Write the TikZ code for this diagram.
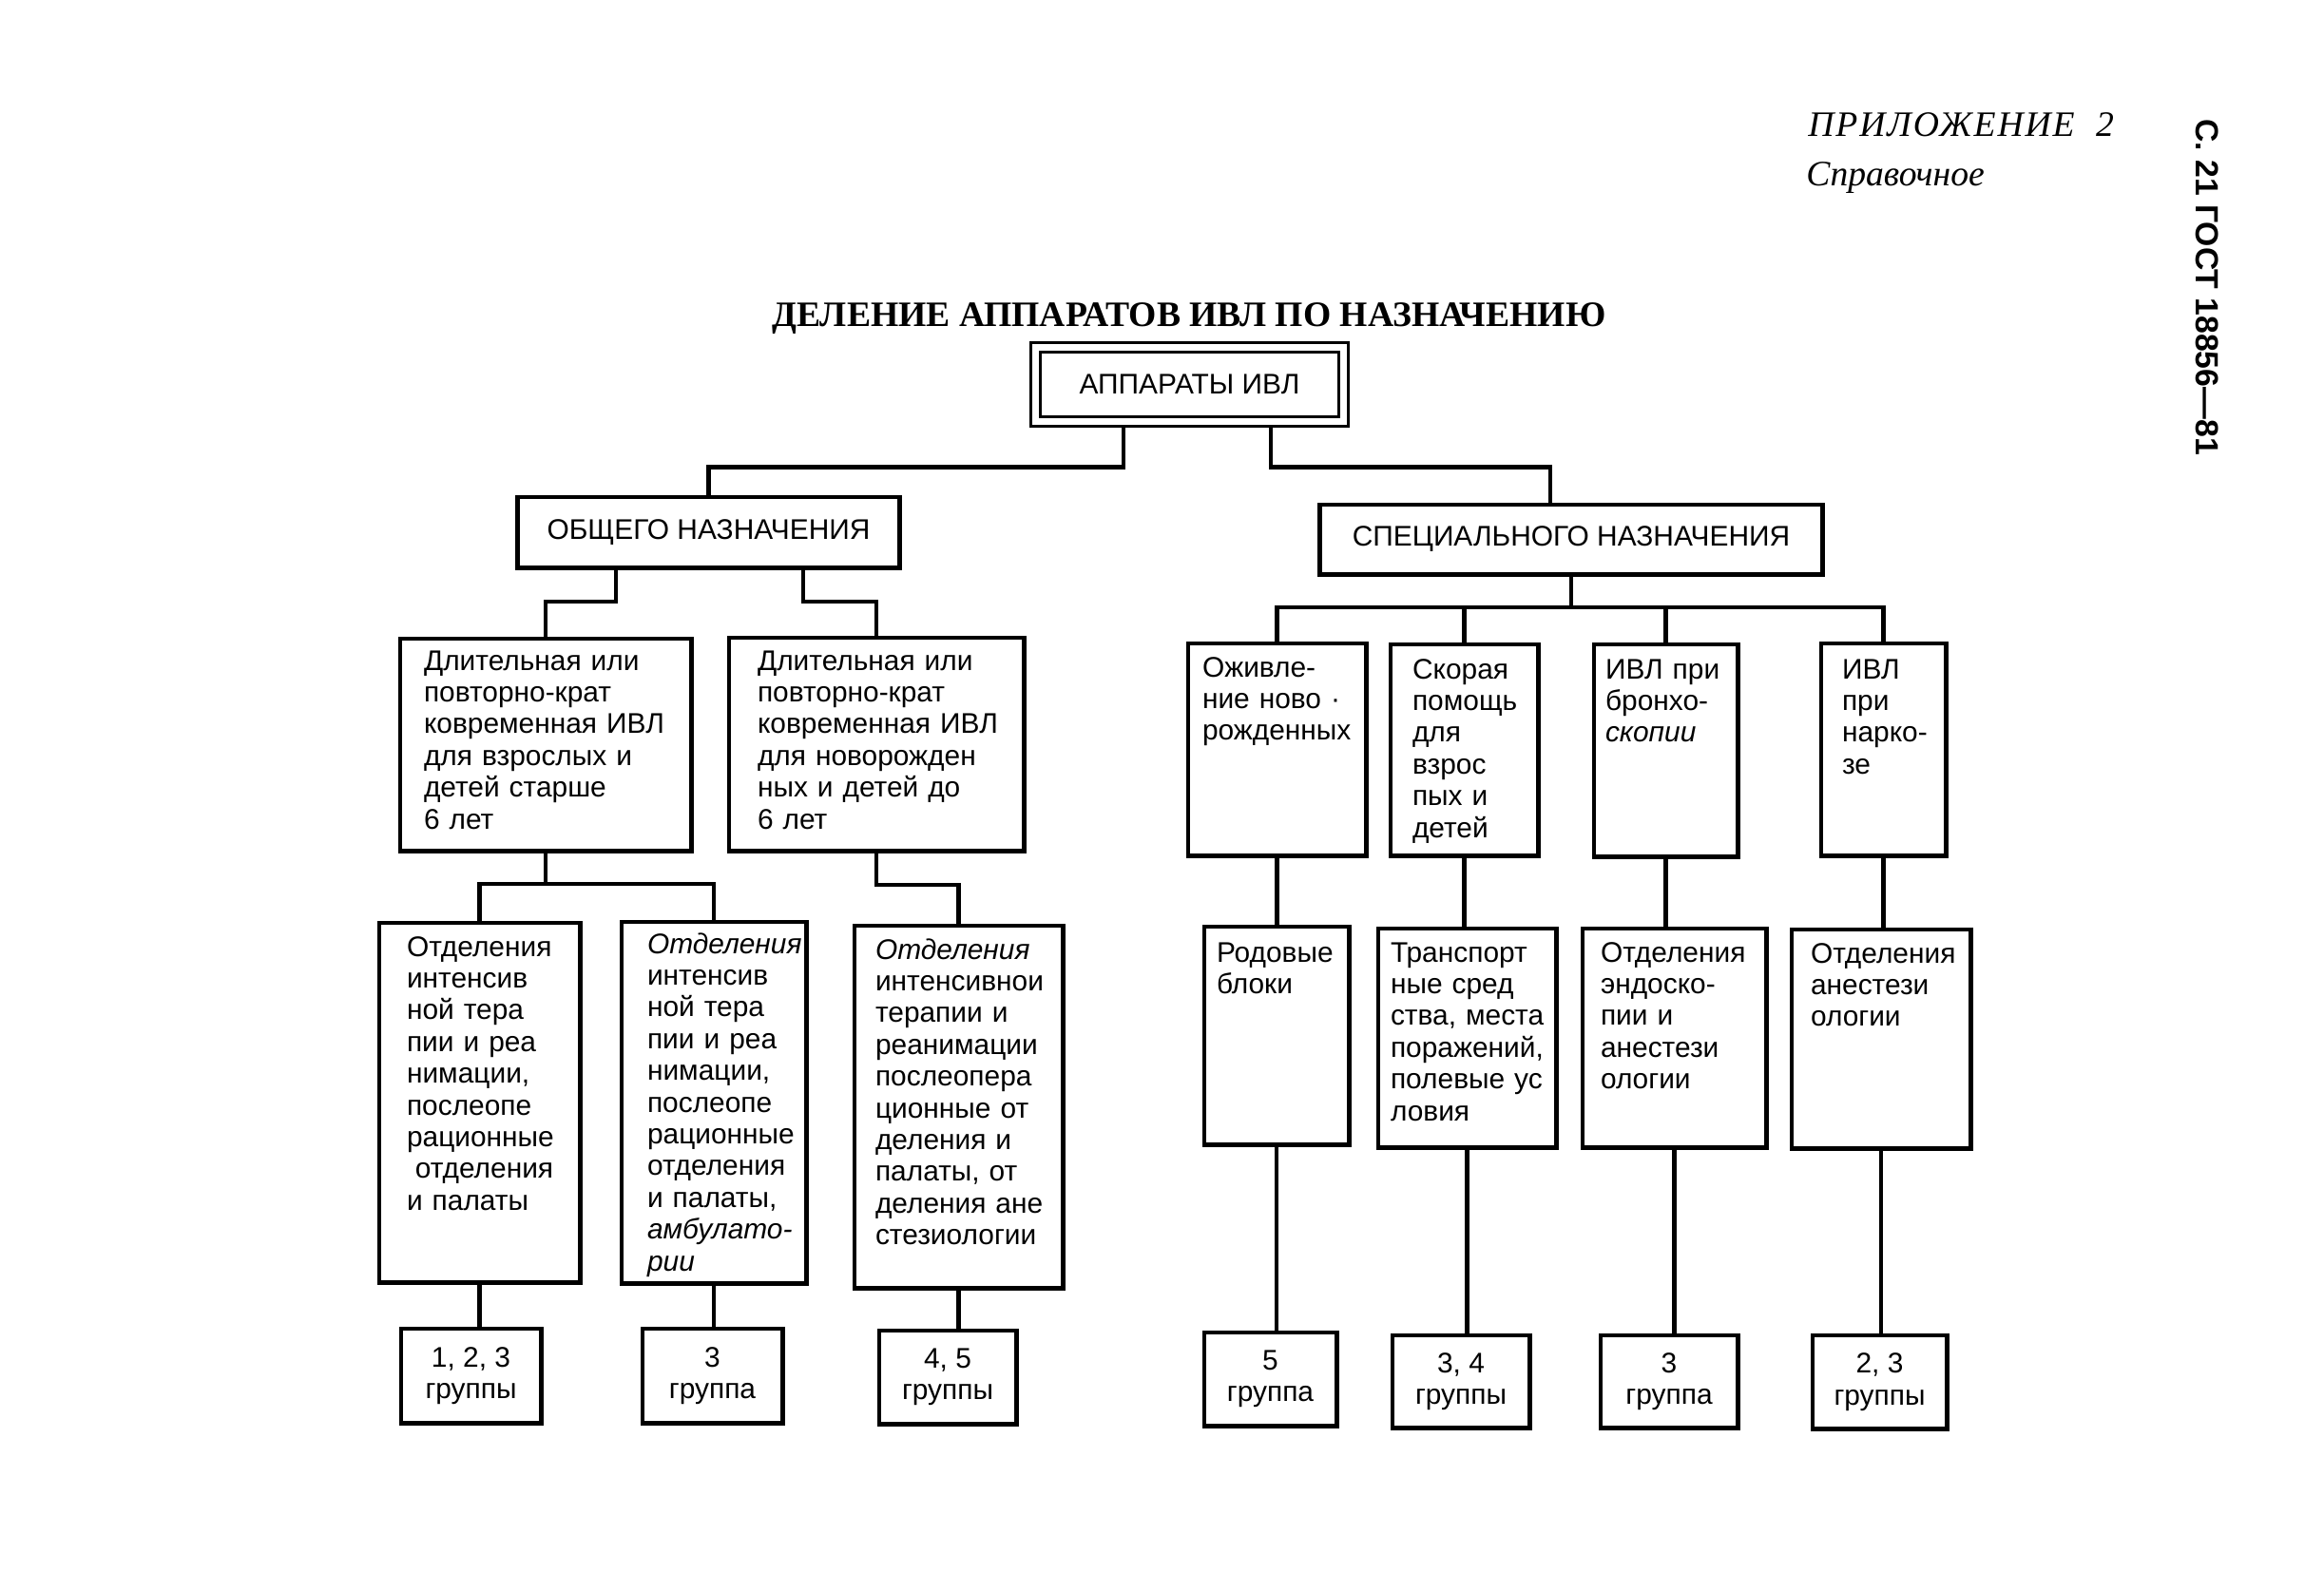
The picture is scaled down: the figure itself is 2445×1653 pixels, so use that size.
\documentclass[tikz,border=0pt]{standalone}
\usepackage{fontspec}
\setmainfont{Liberation Sans}
\newfontfamily\serifrus{Liberation Serif}
\usetikzlibrary{calc,positioning}
\hyphenpenalty=10000
\exhyphenpenalty=10000

\tikzset{
  boxline/.style={draw, line width=1.4pt, outer sep=0pt, inner sep=0pt, font=\fontsize{8.5}{9.5}\selectfont},
  head/.style={boxline, align=center},
  cell/.style={boxline, anchor=north west, align=left},
  grp/.style={boxline, align=center},
  wire/.style={line width=1.3pt},
}

\begin{document}
\begin{tikzpicture}[x=0.01cm, y=-0.01cm]
  \useasboundingbox (0,0) rectangle (2445,1653);
  % page head
  \node[anchor=base west, font=\serifrus\itshape\fontsize{10.7}{12}\selectfont\addfontfeatures{LetterSpace=5}] (pril) at (1890,143) {ПРИЛОЖЕНИЕ~~2};
  \node[anchor=base west, font=\serifrus\itshape\fontsize{10.7}{12}\selectfont] (sprav) at (1888,195) {Справочное};
  \node[rotate=-90, font=\bfseries\fontsize{9.6}{11}\selectfont] (gost) at (2322,302) {С.~21 ГОСТ 18856—81};
  \node[anchor=base, font=\serifrus\bfseries\fontsize{10.7}{12}\selectfont] (title) at (1251,343) {ДЕЛЕНИЕ АППАРАТОВ ИВЛ ПО НАЗНАЧЕНИЮ};
  % top levels
  \node[head, double, double distance=1.8pt, line width=1pt, minimum width=3.24cm, minimum height=0.78cm] (ivl) at (1251.5,404.5) {АППАРАТЫ ИВЛ};
  \node[head, minimum width=4.01cm, minimum height=0.74cm] (obsh) at (745.5,560) {ОБЩЕГО НАЗНАЧЕНИЯ};
  \node[head, minimum width=5.28cm, minimum height=0.73cm] (spec) at (1653,567.5) {СПЕЦИАЛЬНОГО НАЗНАЧЕНИЯ};
  % kinds of ventilation
  \node[cell, inner xsep=0.25cm, text width=2.56cm, text height=0.33cm, text depth=1.90cm] (dlvz) at (421,672) {Длительная~или\\повторно-крат\\ковременная~ИВЛ\\для~взрослых~и\\детей~старше\\6~лет};
  \node[cell, inner xsep=0.30cm, text width=2.50cm, text height=0.34cm, text depth=1.90cm] (dlnov) at (767,671) {Длительная~или\\повторно-крат\\ковременная~ИВЛ\\для~новорожден\\ных~и~детей~до\\6~лет};
  \node[cell, inner xsep=0.15cm, text width=1.57cm, text height=0.35cm, text depth=1.88cm] (ozhiv) at (1250,677) {Оживле-\\ние~ново~·\\рожденных};
  \node[cell, inner xsep=0.23cm, text width=1.09cm, text height=0.36cm, text depth=1.86cm] (skor) at (1463,678) {Скорая\\помощь\\для\\взрос\\пых~и\\детей};
  \node[cell, inner xsep=0.12cm, text width=1.27cm, text height=0.36cm, text depth=1.87cm] (bronh) at (1677,678) {ИВЛ~при\\бронхо-\\\textit{скопии}};
  \node[cell, inner xsep=0.22cm, text width=0.87cm, text height=0.37cm, text depth=1.86cm] (nark) at (1916,677) {ИВЛ\\при\\нарко-\\зе};
  % places of use
  \node[cell, inner xsep=0.29cm, text width=1.53cm, text height=0.35cm, text depth=3.43cm] (reanA) at (399,971) {Отделения\\интенсив\\ной~тера\\пии~и~реа\\нимации,\\послеопе\\рационные\\\hspace*{.3em}отделения\\и~палаты};
  \node[cell, inner xsep=0.27cm, text width=1.40cm, text height=0.33cm, text depth=3.47cm] (reanB) at (654,970) {\textit{Отделения}\\интенсив\\ной~тера\\пии~и~реа\\нимации,\\послеопе\\рационные\\отделения\\и~палаты,\\\textit{амбулато-}\\\textit{рии}};
  \node[cell, inner xsep=0.22cm, text width=1.75cm, text height=0.35cm, text depth=3.46cm] (reanC) at (899,974) {\textit{Отделения}\\интенсивнои\\терапии~и\\реанимации\\послеопера\\ционные~от\\деления~и\\палаты,~от\\деления~ане\\стезиологии};
  \node[cell, inner xsep=0.13cm, text width=1.26cm, text height=0.37cm, text depth=1.92cm] (rodov) at (1267,975) {Родовые\\блоки};
  \node[cell, inner xsep=0.13cm, text width=1.61cm, text height=0.35cm, text depth=1.95cm] (transp) at (1450,977) {Транспорт\\ные~сред\\ства,~места\\поражений,\\полевые~ус\\ловия};
  \node[cell, inner xsep=0.19cm, text width=1.55cm, text height=0.35cm, text depth=1.95cm] (endo) at (1665,977) {Отделения\\эндоско-\\пии~и\\анестези\\ологии};
  \node[cell, inner xsep=0.20cm, text width=1.48cm, text height=0.35cm, text depth=1.95cm] (anest) at (1885,978) {Отделения\\анестези\\ологии};
  % groups
  \node[grp, minimum width=1.47cm, minimum height=0.99cm] (g1) at (495.5,1447.5) {1,~2,~3\\группы};
  \node[grp, minimum width=1.47cm, minimum height=0.99cm] (g2) at (749.5,1447.5) {3\\группа};
  \node[grp, minimum width=1.44cm, minimum height=0.98cm] (g3) at (997,1449) {4,~5\\группы};
  \node[grp, minimum width=1.39cm, minimum height=0.98cm] (g4) at (1336.5,1451) {5\\группа};
  \node[grp, minimum width=1.44cm, minimum height=0.97cm] (g5) at (1537,1453.5) {3,~4\\группы};
  \node[grp, minimum width=1.44cm, minimum height=0.97cm] (g6) at (1756,1453.5) {3\\группа};
  \node[grp, minimum width=1.41cm, minimum height=0.98cm] (g7) at (1977.5,1454) {2,~3\\группы};
  % connectors
  \draw[wire] ($(ivl.south)+(-69.5,6)$) -- ++(0,42) -| (obsh.north);
  \draw[wire] ($(ivl.south)+(85.5,6)$) -- ++(0,42) -| ($(spec.north)+(-22,0)$);
  \draw[wire] ($(obsh.south)+(-97.5,0)$) -- ++(0,36) -| (dlvz.north);
  \draw[wire] ($(obsh.south)+(99.5,0)$) -- ++(0,36) -| (dlnov.north);
  \draw[wire] (spec.south) -- ++(0,35) coordinate (sbus);
  \draw[wire] (ozhiv.north) |- (sbus) -| (nark.north);
  \draw[wire] (skor.north) -- (skor.north |- sbus);
  \draw[wire] (bronh.north) -- (bronh.north |- sbus);
  \draw[wire] (dlvz.south) -- ++(0,35) coordinate (lbus);
  \draw[wire] (reanA.north) |- (lbus) -| (reanB.north);
  \draw[wire] (dlnov.south) -- ++(0,36) -| (reanC.north);
  \foreach \a/\b in {ozhiv/rodov, skor/transp, bronh/endo, nark/anest, reanA/g1, reanB/g2, reanC/g3, rodov/g4, transp/g5, endo/g6, anest/g7}
    \draw[wire] (\a.south) -- (\a.south |- \b.north);
\end{tikzpicture}
\end{document}
